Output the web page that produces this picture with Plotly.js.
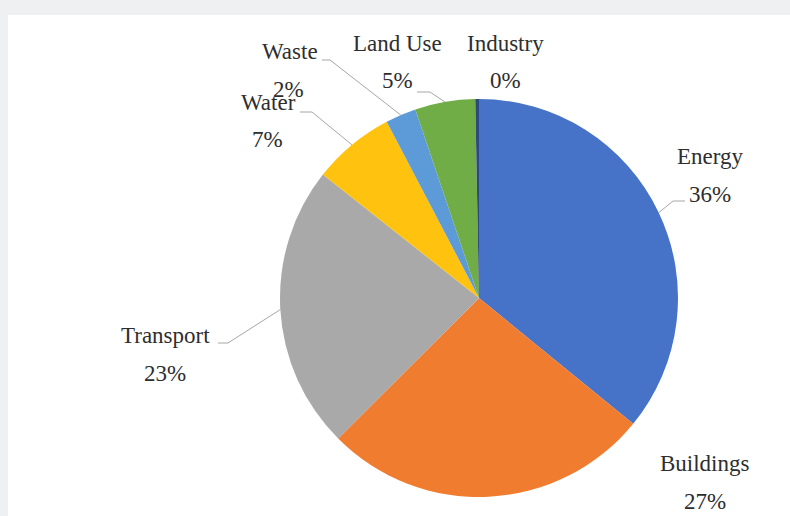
<!DOCTYPE html>
<html>
<head>
<meta charset="utf-8">
<script src="https://cdn.plot.ly/plotly-3.0.1.min.js"></script>
<style>
  html, body { margin:0; padding:0; background:#eff0f2; width:790px; height:516px; overflow:hidden; }
  #chart { position:absolute; left:8px; top:15px; width:782px; height:501px; background:#fff; }
</style>
</head>
<body>
<div id="chart"></div>
<script>
// ---- data ----
const labels = ['Energy', 'Buildings', 'Transport', 'Water', 'Waste', 'Land Use', 'Industry'];
const values = [36, 26.7, 23.2, 6.7, 2.5, 4.9, 0.3];
const colors = ['#4672c8', '#ef7c2f', '#a9a9a9', '#ffc20e', '#5d9bd8', '#70ad47', '#2c4a7e'];

// ---- layout config (page pixels) ----
const OX = 8, OY = 15, W = 782, H = 501;
const CX = 479, CY = 298, R = 199;
const namePos = [[710,157],[705,463],[165,335],[268,102],[290,51],[397,44],[505,44]];
const pctPos  = [[710,194],[705,501],[165,373],[267,140],[288,90],[397,80],[505,80]];
const leaderStart = [[685,201], null, [218,343], [300,112], [322,60], [417,92], null];
const leaderElbow = [[673,201], null, [228,343], [312,112], [330,60], [430,92], null];

const px = x => (x - OX) / W;
const py = y => 1 - (y - OY) / H;

const total = values.reduce((a, b) => a + b, 0);
const font = {family: 'Liberation Serif, serif', size: 23, color: '#2e2e2e'};

const annotations = [];
const shapes = [];
let cum = 0;
labels.forEach((lab, i) => {
  const mid = (cum + values[i] / 2) / total * 2 * Math.PI;
  cum += values[i];
  annotations.push({x: px(namePos[i][0]), y: py(namePos[i][1]), xref: 'paper', yref: 'paper',
    text: lab, showarrow: false, xanchor: 'center', yanchor: 'middle', font: font});
  annotations.push({x: px(pctPos[i][0]), y: py(pctPos[i][1]), xref: 'paper', yref: 'paper',
    text: Math.round(values[i] / total * 100) + '%', showarrow: false, xanchor: 'center', yanchor: 'middle', font: font});
  if (leaderStart[i]) {
    const ex = CX + R * Math.sin(mid), ey = CY - R * Math.cos(mid);
    const pts = [leaderStart[i], leaderElbow[i], [ex, ey]];
    const path = 'M' + pts.map(p => px(p[0]) + ',' + py(p[1])).join(' L');
    shapes.push({type: 'path', xref: 'paper', yref: 'paper', path: path,
      line: {color: '#a6a6a6', width: 1}});
  }
});

const trace = {
  type: 'pie',
  labels: labels,
  values: values,
  sort: false,
  direction: 'clockwise',
  rotation: 0,
  textinfo: 'none',
  hoverinfo: 'label+percent',
  marker: {colors: colors, line: {width: 0}},
  domain: {x: [px(CX - R), px(CX + R)], y: [py(CY + R), py(CY - R)]},
  showlegend: false
};

const layout = {
  width: W, height: H,
  margin: {l: 0, r: 0, t: 0, b: 0},
  paper_bgcolor: '#ffffff',
  plot_bgcolor: '#ffffff',
  showlegend: false,
  annotations: annotations,
  shapes: shapes
};

Plotly.newPlot('chart', [trace], layout, {displayModeBar: false, staticPlot: true});
</script>
</body>
</html>
